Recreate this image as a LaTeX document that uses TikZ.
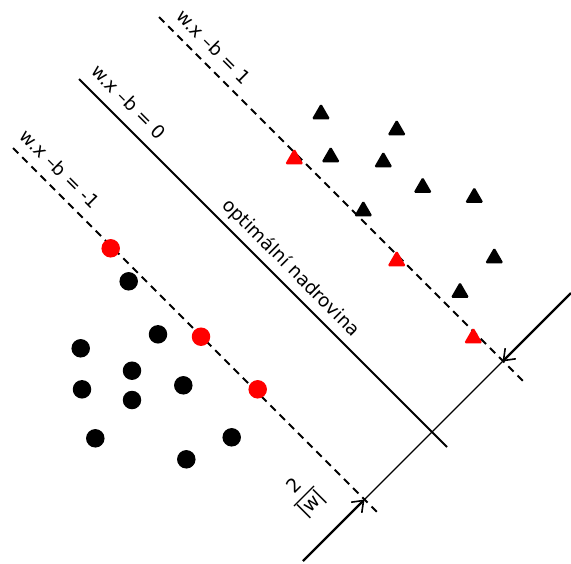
\documentclass[tikz,border=0pt]{standalone}
\usepackage{fontspec}
\setmainfont{DejaVu Sans}
\usetikzlibrary{shapes.geometric,arrows.meta}
\begin{document}
\begin{tikzpicture}[x=1pt,y=-1pt,
  dot/.style={circle,fill,inner sep=0pt,minimum size=18.5pt},
  tri/.style={regular polygon,regular polygon sides=3,fill,draw,line width=1.2pt,rounded corners=1pt,inner sep=0pt,minimum size=19pt},
  margin/.style={line width=1.9pt,dash pattern=on 7.5pt off 5.5pt},
  hyper/.style={line width=1.9pt},
  lbl/.style={font=\fontsize{18.5}{21}\selectfont,rotate=-45,inner sep=0pt},
  dim/.style={line width=2.2pt,-{Straight Barb[length=10pt,width=15pt,line width=1.6pt]}},
]
\useasboundingbox[fill=white] (0,0) rectangle (571,563);
% line end points
\coordinate (t1) at (159,17);  \coordinate (t2) at (524,382);
\coordinate (h1) at (79,79);   \coordinate (h2) at (447,447);
\coordinate (b1) at (13,148);  \coordinate (b2) at (377,512);
\coordinate (d1) at (303,561); \coordinate (d2) at (571,293);
\coordinate (pb) at (364.5,499.5); \coordinate (pu) at (502.5,361.5);
% lines
\draw[margin] (t1) -- (t2);
\draw[hyper] (h1) -- (h2);
\draw[margin] (b1) -- (b2);
\draw[line width=1.3pt] (pb) -- (pu);
\draw[dim] (d1) -- (pb);
\draw[dim] (d2) -- (pu);
% labels
\node[lbl] (l1) at (214,47) {w.x –b = 1};
\node[lbl] (l0) at (129,102) {w.x –b = 0};
\node[lbl] (lm) at (60,169) {w.x –b = -1};
\node[lbl] (opt) at (291,268) {optimální nadrovina};
\node[font=\fontsize{19}{22}\selectfont,rotate=45,inner sep=0pt] (frac) at (304,496)
  {\setlength{\tabcolsep}{0pt}\setlength{\arrayrulewidth}{1.3pt}\renewcommand{\arraystretch}{1.05}\begin{tabular}{c}2\\\hline |w|\end{tabular}};
% circles
\node[dot,red] (r1) at (110.7,248.3) {};
\node[dot,red] (r2) at (201,336.7) {};
\node[dot,red] (r3) at (257.7,389.3) {};
\node[dot] (c1) at (128.7,281.3) {};
\node[dot] (c2) at (158,334.3) {};
\node[dot] (c3) at (80.7,348.3) {};
\node[dot] (c4) at (132,370.7) {};
\node[dot] (c5) at (183.3,385.3) {};
\node[dot] (c6) at (82,389.3) {};
\node[dot] (c7) at (132,400) {};
\node[dot] (c8) at (95.3,438.3) {};
\node[dot] (c9) at (231.7,437.3) {};
\node[dot] (c10) at (186.3,459.3) {};
% triangles
\node[tri] (a1) at (321,114) {};
\node[tri] (a2) at (396.7,130) {};
\node[tri] (a3) at (330.7,157) {};
\node[tri] (a4) at (383.3,162) {};
\node[tri] (a5) at (422.7,187.5) {};
\node[tri] (a6) at (474.3,197.5) {};
\node[tri] (a7) at (363.3,211) {};
\node[tri] (a8) at (494.3,258) {};
\node[tri] (a9) at (460,292.5) {};
\node[tri,red] (s1) at (294.3,159) {};
\node[tri,red] (s2) at (396.7,261) {};
\node[tri,red] (s3) at (473.3,338) {};
\end{tikzpicture}
\end{document}
